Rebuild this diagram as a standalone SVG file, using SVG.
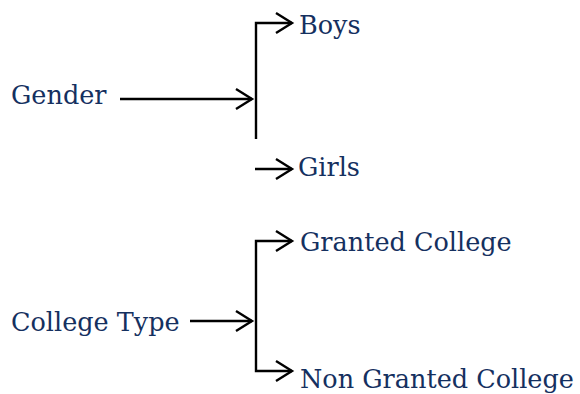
<svg xmlns="http://www.w3.org/2000/svg" width="580" height="394" viewBox="0 0 580 394">
<style>
.t{font-family:"DejaVu Serif","Liberation Serif",serif;font-size:25.5px;fill:#15305f}
.c{stroke:#000;stroke-width:2.4;fill:none}
</style>
<defs>
<marker id="ah" markerUnits="userSpaceOnUse" markerWidth="24" markerHeight="24" refX="19" refY="12" orient="auto" viewBox="0 0 24 24">
<polyline points="3,2 19,12 3,22" fill="none" stroke="#000" stroke-width="2.4"/>
</marker>
</defs>
<g id="connectors">
<line class="c" x1="120" y1="99" x2="252" y2="99" marker-end="url(#ah)"/>
<polyline class="c" points="256,139 256,23 292,23" marker-end="url(#ah)"/>
<line class="c" x1="255" y1="169" x2="292" y2="169" marker-end="url(#ah)"/>
<line class="c" x1="190" y1="321" x2="252" y2="321" marker-end="url(#ah)"/>
<polyline class="c" points="256,321 256,241 292,241" marker-end="url(#ah)"/>
<polyline class="c" points="256,321 256,371 292,371" marker-end="url(#ah)"/>
</g>
<g id="gender"><text class="t" x="11" y="104">Gender</text></g>
<g id="boys"><text class="t" x="299" y="34">Boys</text></g>
<g id="girls"><text class="t" x="298" y="176">Girls</text></g>
<g id="college-type"><text class="t" x="11" y="331">College Type</text></g>
<g id="granted"><text class="t" x="300" y="251">Granted College</text></g>
<g id="non-granted"><text class="t" x="300" y="388">Non Granted College</text></g>
</svg>
